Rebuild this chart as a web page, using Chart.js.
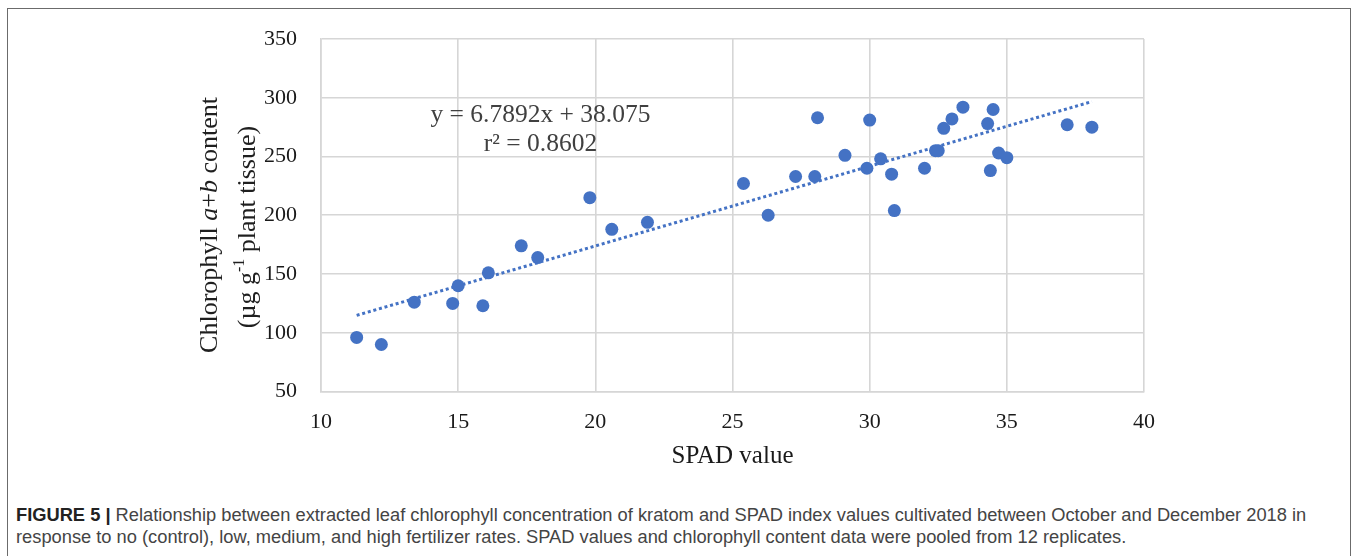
<!DOCTYPE html>
<html>
<head>
<meta charset="utf-8">
<script src="https://cdn.jsdelivr.net/npm/chart.js@4.4.1/dist/chart.umd.min.js"></script>
<style>
  html, body { margin: 0; padding: 0; background: #fff; width: 1358px; height: 556px; overflow: hidden; }
  #frame { position: absolute; left: 7px; top: 8px; width: 1342px; height: 600px; border: 1.5px solid #6b6b6b; border-bottom: none; }
  #grafico { position: absolute; left: 0; top: 0; }
  #legenda { position: absolute; left: 16px; top: 504px; font-family: "Liberation Sans", Arial, sans-serif; font-size: 18.3px; line-height: 22px; color: #444; white-space: nowrap; }
  #legenda b { color: #222; }
</style>
</head>
<body>
<div id="frame"></div>
<canvas id="grafico" width="1358" height="480"></canvas>
<div id="legenda"><b>FIGURE 5 |</b> Relationship between extracted leaf chlorophyll concentration of kratom and SPAD index values cultivated between October and December 2018 in<br>response to no (control), low, medium, and high fertilizer rates. SPAD values and chlorophyll content data were pooled from 12 replicates.</div>
<script>
// valores
const spad = [11.3, 12.2, 13.4, 14.8, 15.0, 15.9, 16.1, 17.3, 17.9, 19.8, 20.6, 21.9,
  25.4, 26.3, 27.3, 28.0, 28.1, 29.1, 29.9, 30.0, 30.4, 30.8, 30.9, 32.0,
  32.4, 32.5, 32.7, 33.0, 33.4, 34.3, 34.4, 34.5, 34.7, 35.0, 37.2, 38.1];
const clorofila = [96, 90, 126, 125, 140, 123, 151, 174, 164, 215, 188, 194,
  227, 200, 233, 233, 283, 251, 240, 281, 248, 235, 204, 240,
  255, 255, 274, 282, 292, 278, 238, 290, 253, 249, 277, 275];

const inclinacao = 6.7892;
const intercepto = 38.075;
const r2 = 0.8602;

const xTicks = [10, 15, 20, 25, 30, 35, 40];
const yTicks = [50, 100, 150, 200, 250, 300, 350];

const azul = '#4472C4';
const cinzaGrade = '#d6d6d6';

const pontos = spad.map((x, i) => ({ x: x, y: clorofila[i] }));
const xMin = Math.min(...spad);
const xMax = Math.max(...spad);
const tendencia = [xMin, xMax].map(x => ({ x: x, y: inclinacao * x + intercepto }));

// título do eixo y com itálico e sobrescrito
function desenharSegmentos(ctx, partes, cx, cy) {
  let total = 0;
  partes.forEach(p => { ctx.font = p.font; p.w = ctx.measureText(p.t).width; total += p.w; });
  let x = -total / 2;
  ctx.save();
  ctx.translate(cx, cy);
  ctx.rotate(-Math.PI / 2);
  ctx.textBaseline = 'middle';
  ctx.textAlign = 'left';
  partes.forEach(p => {
    ctx.font = p.font;
    ctx.fillText(p.t, x, p.dy || 0);
    x += p.w;
  });
  ctx.restore();
}

const textosExtras = {
  id: 'textosExtras',
  afterDraw(chart) {
    const ctx = chart.ctx;
    const sx = chart.scales.x;
    const sy = chart.scales.y;
    const serif = '"Liberation Serif", "Times New Roman", serif';
    ctx.save();
    ctx.fillStyle = '#1f1f1f';
    const normal = '26px ' + serif;
    const italico = 'italic 26px ' + serif;
    const pequeno = '16px ' + serif;
    desenharSegmentos(ctx, [
      { t: 'Chlorophyll ', font: normal },
      { t: 'a', font: italico },
      { t: '+', font: normal },
      { t: 'b', font: italico },
      { t: ' content', font: normal }
    ], 210, 225);
    desenharSegmentos(ctx, [
      { t: '(µg g', font: normal },
      { t: '-1', font: pequeno, dy: -8 },
      { t: ' plant tissue)', font: normal }
    ], 248, 227);

    // equação da linha de tendência
    ctx.fillStyle = '#404040';
    ctx.font = '25.5px ' + serif;
    ctx.textAlign = 'center';
    ctx.textBaseline = 'middle';
    const cx = sx.getPixelForValue(18.0);
    ctx.fillText('y = ' + inclinacao + 'x + ' + intercepto.toFixed(3), cx, sy.getPixelForValue(285));
    ctx.fillText('r² = ' + r2, cx, sy.getPixelForValue(260));
    ctx.restore();
  }
};

new Chart(document.getElementById('grafico'), {
  type: 'scatter',
  data: {
    datasets: [
      {
        label: 'Tendência',
        type: 'line',
        data: tendencia,
        borderColor: azul,
        borderWidth: 3,
        borderDash: [3, 2.8],
        borderCapStyle: 'butt',
        pointRadius: 0,
        fill: false,
        order: 2
      },
      {
        label: 'Clorofila',
        data: pontos,
        backgroundColor: azul,
        borderColor: azul,
        pointRadius: 6.5,
        pointBorderWidth: 0,
        order: 1
      }
    ]
  },
  options: {
    responsive: false,
    animation: false,
    layout: { padding: { left: 200, right: 214, top: 39, bottom: 0 } },
    plugins: { legend: { display: false }, tooltip: { enabled: false } },
    scales: {
      x: {
        type: 'linear',
        min: 10,
        max: 40,
        afterBuildTicks: s => { s.ticks = xTicks.map(v => ({ value: v })); },
        afterFit: s => { s.height = 88.5; },
        grid: { color: cinzaGrade, lineWidth: 1.6, drawTicks: false },
        border: { color: cinzaGrade, width: 1.6 },
        ticks: { padding: 18, color: '#1a1a1a', font: { family: '"Liberation Serif", "Times New Roman", serif', size: 22 } },
        title: { display: true, text: 'SPAD value', color: '#1a1a1a', padding: { top: 0, bottom: 9 }, font: { family: '"Liberation Serif", "Times New Roman", serif', size: 25 } }
      },
      y: {
        type: 'linear',
        min: 50,
        max: 350,
        afterBuildTicks: s => { s.ticks = yTicks.map(v => ({ value: v })); },
        afterFit: s => { s.width = 121; },
        grid: { color: cinzaGrade, lineWidth: 1.6, drawTicks: false },
        border: { color: cinzaGrade, width: 1.6 },
        ticks: { padding: 24, color: '#1a1a1a', font: { family: '"Liberation Serif", "Times New Roman", serif', size: 22 } }
      }
    }
  },
  plugins: [textosExtras]
});
</script>
</body>
</html>
